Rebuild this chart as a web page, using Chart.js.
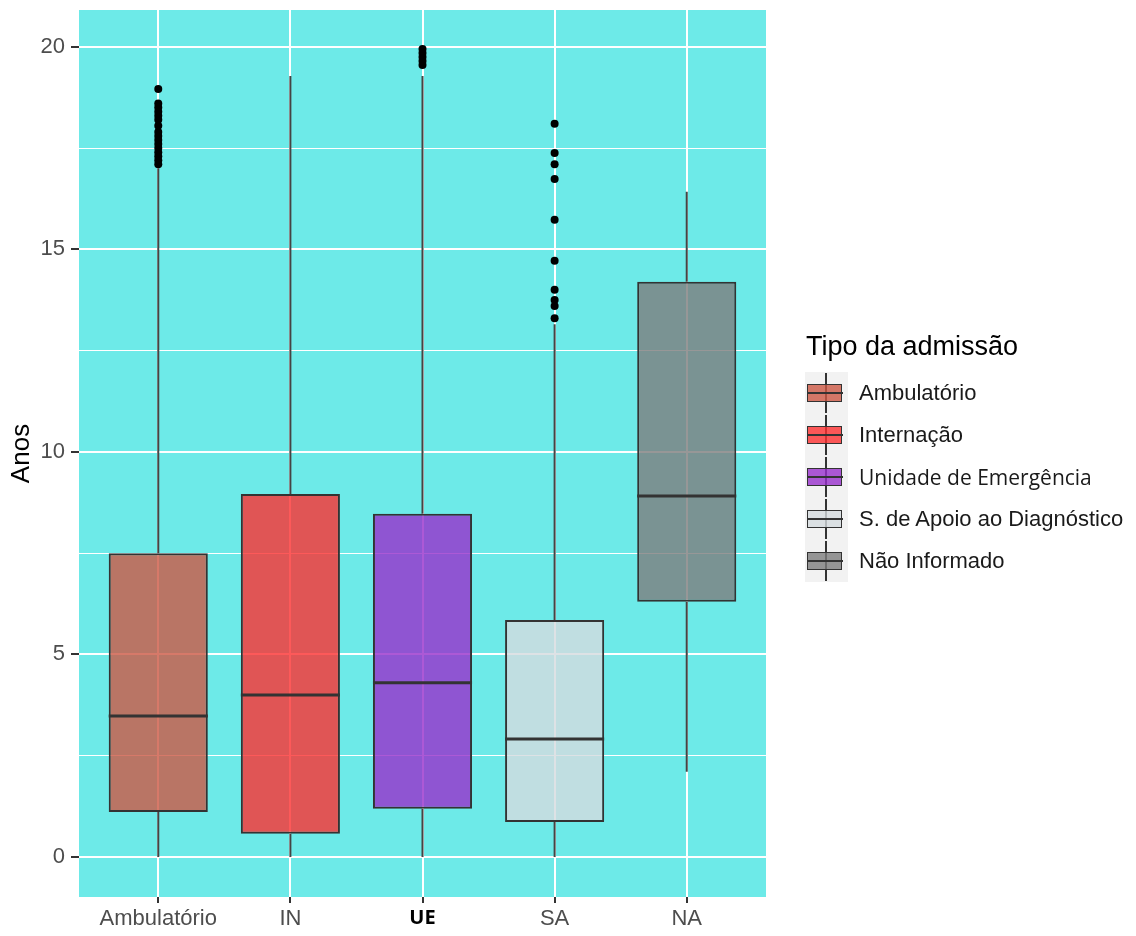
<!DOCTYPE html>
<html>
<head>
<meta charset="utf-8">
<script src="https://cdn.jsdelivr.net/npm/chart.js@4"></script>
<style>
    body { margin: 0; background: #fff; }
    #wrap { position: relative; width: 1136px; height: 936px; }
    #legend { position: absolute; left: 0; top: 0; font-family: "Liberation Sans", Arial, sans-serif; }
    .ltitle { position: absolute; left: 806px; top: 331px; font-size: 27px; color: #000; white-space: nowrap; }
    .lbg { position: absolute; left: 805px; top: 372px; width: 43px; height: 210px; background: #f2f2f2; }
    .lwhisk { position: absolute; width: 2px; background: #333; }
    .lbox { position: absolute; width: 33px; height: 16px; border: 1.5px solid #333; }
    .lmed { position: absolute; width: 36px; height: 2px; background: #333; }
    .llabel { position: absolute; left: 859px; font-size: 22px; color: #1a1a1a; white-space: nowrap; line-height: 24px; }
</style>
</head>
<body>
<div id="wrap">
    <canvas id="boxPlot" width="1136" height="936"></canvas>
    <div id="legend"></div>
</div>
<script>
// Categories and legend
var categories = ['Ambulatório', 'IN', 'UE', 'SA', 'NA'];
var legendLabels = ['Ambulatório', 'Internação', 'Unidade de Emergência', 'S. de Apoio ao Diagnóstico', 'Não Informado'];
var legendTitle = 'Tipo da admissão';
var yTitle = 'Anos';

// Box statistics (years)
var whiskerLow  = [0,    0,    0,    0,    2.1];
var q1          = [1.11, 0.57, 1.19, 0.86, 6.3];
var median      = [3.48, 4.0,  4.3,  2.91, 8.91];
var q3          = [7.5,  8.96, 8.47, 5.85, 14.2];
var whiskerHigh = [17.0, 19.28, 19.28, 13.15, 16.42];

// Outliers per category
var outliersAmb = [18.96, 18.6, 18.5, 18.4, 18.3, 18.2, 18.05, 17.9, 17.8, 17.7, 17.6, 17.5, 17.4, 17.3, 17.2, 17.1];
var outliersIN  = [];
var outliersUE  = [19.95, 19.85, 19.75, 19.65, 19.55];
var outliersSA  = [18.1, 17.38, 17.1, 16.74, 15.73, 14.72, 14.0, 13.75, 13.6, 13.3];
var outliersNA  = [];
var outliers = [outliersAmb, outliersIN, outliersUE, outliersSA, outliersNA];

var fillColors = [
    'rgba(204,88,68,0.8)', 'rgba(253,48,48,0.8)', 'rgba(151,48,204,0.8)', 'rgba(213,219,222,0.8)', 'rgba(125,125,125,0.8)'
];
var panelColor = '#6deae8';
var lineColor = '#333333';

var fontFamily = '"Liberation Sans", Arial, sans-serif';

// Floating bars for the boxes
var boxData = [];
for (var i = 0; i < categories.length; i++) {
    boxData.push({ x: i + 1, y: [q1[i], q3[i]] });
}

var outlierData = [];
for (var i = 0; i < outliers.length; i++) {
    for (var j = 0; j < outliers[i].length; j++) {
        outlierData.push({ x: i + 1, y: outliers[i][j] });
    }
}

// Panel background, whiskers and medians
var boxPlugin = {
    id: 'boxExtras',
    beforeDraw: function(chart) {
        var a = chart.chartArea;
        var ctx = chart.ctx;
        ctx.save();
        ctx.fillStyle = panelColor;
        ctx.fillRect(a.left, a.top, a.right - a.left, a.bottom - a.top);
        ctx.restore();
    },
    beforeDatasetsDraw: function(chart) {
        var ctx = chart.ctx;
        var xs = chart.scales.x, ys = chart.scales.y;
        ctx.save();
        ctx.strokeStyle = '#444';
        ctx.lineWidth = 2;
        for (var i = 0; i < categories.length; i++) {
            var px = xs.getPixelForValue(i + 1);
            ctx.beginPath();
            ctx.moveTo(px, ys.getPixelForValue(whiskerLow[i]));
            ctx.lineTo(px, ys.getPixelForValue(q1[i]));
            ctx.moveTo(px, ys.getPixelForValue(q3[i]));
            ctx.lineTo(px, ys.getPixelForValue(whiskerHigh[i]));
            ctx.stroke();
        }
        ctx.restore();
    },
    afterDatasetDraw: function(chart, args) {
        if (args.index !== 0) return;
        var ctx = chart.ctx;
        var xs = chart.scales.x, ys = chart.scales.y;
        var bars = chart.getDatasetMeta(0).data;
        ctx.save();
        ctx.strokeStyle = lineColor;
        ctx.lineWidth = 3;
        for (var i = 0; i < categories.length; i++) {
            var half = bars[i].width / 2;
            var px = xs.getPixelForValue(i + 1);
            var py = ys.getPixelForValue(median[i]);
            ctx.beginPath();
            ctx.moveTo(px - half, py);
            ctx.lineTo(px + half, py);
            ctx.stroke();
        }
        ctx.restore();
    }
};

var chart = new Chart(document.getElementById('boxPlot'), {
    type: 'bar',
    data: {
        datasets: [{
            type: 'bar',
            data: boxData,
            backgroundColor: fillColors,
            borderColor: lineColor,
            borderWidth: 2,
            borderSkipped: false,
            barPercentage: 0.75,
            categoryPercentage: 1,
            order: 2
        }, {
            type: 'scatter',
            data: outlierData,
            backgroundColor: '#000',
            borderColor: '#000',
            pointRadius: 4,
            borderWidth: 0,
            order: 1
        }]
    },
    options: {
        responsive: false,
        animation: false,
        layout: { padding: { top: 10, right: 370, left: 0, bottom: 0 } },
        plugins: {
            legend: { display: false },
            tooltip: { enabled: false }
        },
        scales: {
            x: {
                type: 'linear',
                min: 0.4,
                max: 5.6,
                offset: false,
                afterBuildTicks: function(scale) {
                    scale.ticks = categories.map(function(c, i) { return { value: i + 1 }; });
                },
                afterFit: function(scale) {
                    scale.height = 39;
                    scale.paddingLeft = 0;
                    scale.paddingRight = 0;
                },
                border: { display: false },
                grid: { offset: false, color: '#ffffff', lineWidth: 2, tickLength: 6, tickColor: lineColor, tickWidth: 2 },
                ticks: {
                    autoSkip: false,
                    maxRotation: 0,
                    padding: 3,
                    color: function(ctx) { return ctx.index === 2 ? '#000' : '#4d4d4d'; },
                    font: function(ctx) {
                        if (ctx.index === 2) return { family: '"Open Sans", sans-serif', size: 20, weight: 'bold' };
                        return { family: fontFamily, size: 22 };
                    },
                    callback: function(v) { return categories[Math.round(v) - 1]; }
                }
            },
            y: {
                type: 'linear',
                min: -0.99,
                max: 20.91,
                afterBuildTicks: function(scale) {
                    var t = [];
                    for (var v = 0; v <= 20; v += 2.5) t.push({ value: v });
                    scale.ticks = t;
                },
                afterFit: function(scale) {
                    scale.width = 79;
                    scale.paddingTop = 0;
                    scale.paddingBottom = 0;
                },
                border: { display: false },
                grid: {
                    color: '#ffffff',
                    lineWidth: function(ctx) { return ctx.tick && ctx.tick.value % 5 === 0 ? 2 : 1; },
                    tickLength: 8,
                    tickWidth: 2,
                    tickColor: function(ctx) { return ctx.tick && ctx.tick.value % 5 === 0 ? lineColor : 'rgba(0,0,0,0)'; }
                },
                ticks: {
                    autoSkip: false,
                    padding: 6,
                    color: '#4d4d4d',
                    font: { family: fontFamily, size: 22 },
                    callback: function(v) { return v % 5 === 0 ? String(v) : ''; }
                },
                title: {
                    display: true,
                    text: yTitle,
                    color: '#000',
                    font: { family: fontFamily, size: 26 },
                    padding: { top: 6, bottom: 0 }
                }
            }
        }
    },
    plugins: [boxPlugin]
});

// Legend (ggplot style)
function buildLegend() {
    var legend = document.getElementById('legend');
    var html = '<div class="ltitle">' + legendTitle + '</div><div class="lbg"></div>';
    for (var i = 0; i < legendLabels.length; i++) {
        var cy = 393 + i * 42;
        html += '<div class="lwhisk" style="left:825px;top:' + (cy - 20) + 'px;height:40px"></div>';
        html += '<div class="lbox" style="left:807px;top:' + (cy - 9.5) + 'px;background:' + fillColors[i] + '"></div>';
        html += '<div class="lmed" style="left:807px;top:' + (cy - 1) + 'px"></div>';
        var fam = i === 2 ? 'font-family:&quot;Open Sans&quot;,sans-serif;font-size:21px;' : '';
        html += '<div class="llabel" style="top:' + (cy - 12) + 'px;' + fam + '">' + legendLabels[i] + '</div>';
    }
    legend.innerHTML = html;
}
buildLegend();
</script>
</body>
</html>
